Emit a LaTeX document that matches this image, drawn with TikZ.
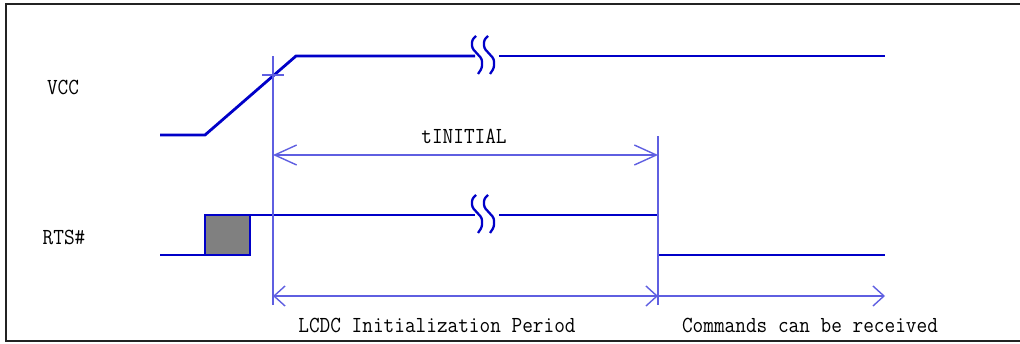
\documentclass[tikz,border=0pt]{standalone}
\usetikzlibrary{arrows.meta}
\definecolor{sig}{RGB}{0,0,200}
\definecolor{dimc}{RGB}{95,95,225}
\definecolor{boxgray}{RGB}{128,128,128}
\definecolor{framec}{RGB}{35,35,35}
\begin{document}
\begin{tikzpicture}[x=1pt,y=-1pt,
  sigline/.style={draw=sig,line width=2.8pt},
  dimline/.style={draw=dimc,line width=1.4pt},
  bigarr/.style={dimline,arrows={Straight Barb[length=22pt,width=20pt]-Straight Barb[length=22pt,width=20pt]}},
  smalltip/.tip={Straight Barb[length=11pt,width=20pt]},
  lbl/.style={inner sep=0pt,font=\ttfamily\fontsize{23}{23}\selectfont},
  brk/.pic={
    \draw[sig,line width=2.3pt,rounded corners=2.5pt] (-8,-19) -- (-12,-15) -- (-12,-7) -- (-2,4) -- (-2,13) -- (-6,19);
    \draw[sig,line width=2.3pt,rounded corners=2.5pt] (4,-19) -- (0,-15) -- (0,-7) -- (10,4) -- (10,13) -- (6,19);
  }]
\useasboundingbox (0,0) rectangle (1020,343);
% frame
\coordinate (f1) at (1020,4);
\coordinate (f2) at (6,4);
\coordinate (f3) at (6,341);
\coordinate (f4) at (1020,341);
\draw[framec,line width=2pt] (f1) -- (f2) -- (f3) -- (f4);
% VCC signal
\coordinate (v0) at (160,135);
\coordinate (v1) at (205,135);
\coordinate (v2) at (296,56);
\coordinate (v3) at (475,56);
\coordinate (v4) at (499,56);
\coordinate (v5) at (885,56);
\draw[sigline,line join=miter] (v0) -- (v1) -- (v2) -- (v3);
\draw[sigline] (v4) -- (v5);
\pic at (484,55) {brk};
% RTS signal
\coordinate (r0) at (160,255);
\coordinate (r1) at (205,255);
\coordinate (b2) at (250,215);
\coordinate (r2) at (205,215);
\coordinate (r3) at (475,215);
\coordinate (r4) at (499,215);
\coordinate (r5) at (658,215);
\coordinate (r6) at (658,255);
\coordinate (r7) at (885,255);
\filldraw[fill=boxgray,draw=sig,line width=1.5pt] (r1) rectangle (b2);
\draw[sigline] (r0) -- (r1);
\draw[sigline] (r2) -- (r3);
\draw[sigline] (r4) -- (r5) -- (r6) -- (r7);
\pic at (484,214) {brk};
% dimension lines
\coordinate (e1t) at (273,56);
\coordinate (e1b) at (273,305);
\coordinate (e2t) at (658,136);
\coordinate (e2b) at (658,305);
\draw[dimline] (e1t) -- (e1b);
\draw[dimline] (e2t) -- (e2b);
\coordinate (t1) at (262,75);
\coordinate (t2) at (284,75);
\draw[dimline] (t1) -- (t2);
\coordinate (a1) at (273,155);
\coordinate (a2) at (658,155);
\draw[bigarr] (a1) -- (a2);
\coordinate (c1) at (273,296);
\coordinate (c2) at (658,296);
\coordinate (c3) at (885,296);
\draw[dimline,{smalltip}-{smalltip}] (c1) -- (c2);
\draw[dimline,-{smalltip}] (c2) -- (c3);
% labels
\node[lbl] (lvcc) at (63,87) {\scalebox{0.9}[1]{VCC}};
\node[lbl] (lrts) at (64,237) {\scalebox{0.9}[1]{RTS\#}};
\node[lbl] (lti) at (464,136) {\scalebox{0.9}[1]{tINITIAL}};
\node[lbl] (llcdc) at (437,325) {\scalebox{0.9}[1]{LCDC Initialization Period}};
\node[lbl] (lcmd) at (810,325) {\scalebox{0.9}[1]{Commands can be received}};
\end{tikzpicture}
\end{document}
